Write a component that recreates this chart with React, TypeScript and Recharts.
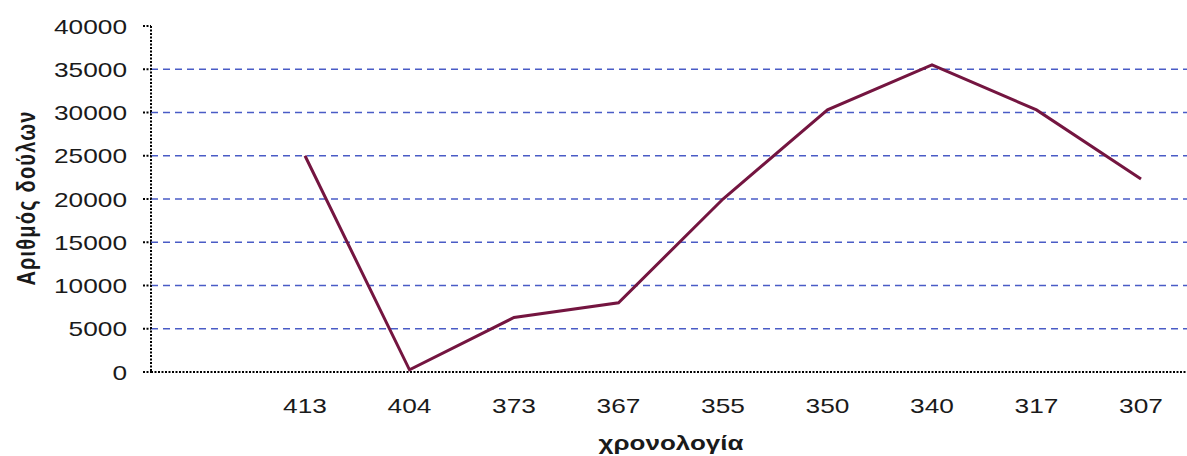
import React from "react";
import { LineChart, Line, XAxis, YAxis, CartesianGrid, Label } from "recharts";

const years = ["413", "404", "373", "367", "355", "350", "340", "317", "307"];
const slaves = [25000, 250, 6300, 8000, 20000, 30300, 35500, 30300, 22300];
const yTicks = [0, 5000, 10000, 15000, 20000, 25000, 30000, 35000, 40000];
const gridValues = [5000, 10000, 15000, 20000, 25000, 30000, 35000];

const data = years.map((y, i) => ({ year: y, value: slaves[i] }));

const FONT = "'Liberation Sans', Arial, sans-serif";

const YTick = (props: any) => {
  const { x, y, payload } = props;
  return (
    <text
      transform={`translate(${x - 16} ${y}) scale(1.25 1)`}
      textAnchor="end"
      dy="0.36em"
      fontFamily={FONT}
      fontSize={21}
      fill="#1a1a1a"
    >
      {payload.value}
    </text>
  );
};

const XTick = (props: any) => {
  const { x, y, payload } = props;
  return (
    <text
      transform={`translate(${x} ${y + 41}) scale(1.25 1)`}
      textAnchor="middle"
      fontFamily={FONT}
      fontSize={21}
      fill="#1a1a1a"
    >
      {payload.value}
    </text>
  );
};

export default function App() {
  return (
    <div style={{ position: "absolute", left: 0, top: 0, width: 1187, height: 456, background: "#fff" }}>
      <LineChart width={1187} height={456} data={data} margin={{ top: 26, right: 0, bottom: 0, left: 0 }}>
        <CartesianGrid
          vertical={false}
          horizontalValues={gridValues}
          stroke="#4a5cc6"
          strokeDasharray="7 5"
          strokeWidth={1.3}
        />
        <XAxis
          dataKey="year"
          height={84}
          padding={{ left: 154, right: 46 }}
          tickLine={false}
          tickSize={0}
          tickMargin={0}
          interval={0}
          axisLine={{ stroke: "#000", strokeWidth: 2, strokeDasharray: "2 1.5" }}
          tick={<XTick />}
        >
          <Label
            content={() => (
              <text
                transform="translate(671 450) scale(1.3 1)"
                textAnchor="middle"
                fontFamily={FONT}
                fontWeight="bold"
                fontSize={20}
                fill="#1a1a1a"
              >
                χρονολογία
              </text>
            )}
          />
        </XAxis>
        <YAxis
          width={151}
          domain={[0, 40000]}
          ticks={yTicks}
          interval={0}
          tickSize={8}
          tickMargin={0}
          tickLine={{ stroke: "#000", strokeWidth: 2, strokeDasharray: "2 1.5" }}
          axisLine={{ stroke: "#000", strokeWidth: 2, strokeDasharray: "2 1.5" }}
          tick={<YTick />}
        >
          <Label
            content={() => (
              <text
                transform="translate(35 198) rotate(-90) scale(1 1.3)"
                textAnchor="middle"
                fontFamily={FONT}
                fontWeight="bold"
                fontSize={20}
                letterSpacing={1.2}
                fill="#1a1a1a"
              >
                Αριθμός δούλων
              </text>
            )}
          />
        </YAxis>
        <Line
          type="linear"
          dataKey="value"
          stroke="#741540"
          strokeWidth={3}
          dot={false}
          activeDot={false}
          isAnimationActive={false}
        />
      </LineChart>
    </div>
  );
}
